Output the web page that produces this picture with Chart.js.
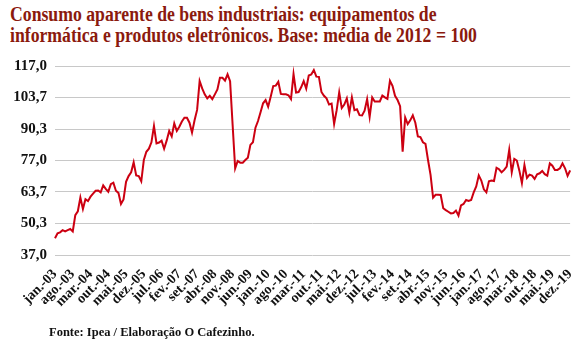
<!DOCTYPE html>
<html>
<head>
<meta charset="utf-8">
<script src="https://cdn.jsdelivr.net/npm/chart.js@4/dist/chart.umd.min.js"></script>
<style>
body { margin: 0; background: #fff; }
#wrap { position: relative; width: 585px; height: 351px; overflow: hidden; }
#title { position: absolute; left: 10px; top: 4px; font: bold 20px 'Liberation Serif', serif; color: #8b1a0e; line-height: 20.5px; white-space: nowrap; transform-origin: 0 0; transform: scaleX(0.885); }
#fonte { position: absolute; left: 49px; top: 325px; font: bold 12.5px 'Liberation Serif', serif; color: #111; white-space: nowrap; }
canvas { position: absolute; left: 0; top: 0; }
</style>
</head>
<body>
<div id="wrap">
  <div id="title">Consumo aparente de bens industriais: equipamentos de<br>informática e produtos eletrônicos. Base: média de 2012 = 100</div>
  <canvas id="chart" width="585" height="351"></canvas>
  <div id="fonte">Fonte: Ipea / Elaboração O Cafezinho.</div>
</div>
<script>
// meses jan/2003 .. dez/2019
const months = ['jan', 'fev', 'mar', 'abr', 'mai', 'jun', 'jul', 'ago', 'set', 'out', 'nov', 'dez'];
const firstYear = 2003, lastYear = 2019;
const yTicks = [37, 50.333, 63.667, 77, 90.333, 103.667, 117];

// valores (base 2012 = 100)
const consumo2003_2007 = [
  44.1, 46.2, 46.6, 47.5, 47.0, 47.5, 48.0, 47.0, 53.9, 55.5, 61.3, 56.5,
  60.6, 59.8, 61.7, 63.0, 64.2, 64.3, 63.5, 66.5, 65.0, 63.8, 67.0, 67.6,
  64.2, 63.3, 58.6, 60.5, 68.0, 70.4, 72.0, 76.2, 70.7, 70.4, 68.2, 77.2,
  80.7, 82.0, 84.7, 91.6, 84.2, 84.6, 85.4, 82.0, 85.4, 89.5, 87.2, 92.7,
  89.5, 91.3, 93.5, 95.1, 95.1, 93.0, 88.8, 94.0, 98.4, 110.6, 107.5, 105.0
];
const consumo2008_2012 = [
  103.3, 104.4, 103.0, 105.0, 107.1, 112.0, 112.0, 110.8, 113.5, 110.6, 92.0, 73.7,
  76.8, 76.1, 76.1, 77.2, 78.2, 83.6, 84.7, 90.9, 93.7, 97.4, 101.2, 102.6,
  99.8, 104.0, 108.5, 108.7, 110.3, 105.2, 105.0, 105.0, 104.6, 103.0, 113.6, 105.8,
  106.0, 108.0, 110.6, 107.4, 113.0, 113.4, 115.3, 112.5, 112.4, 106.0, 104.4, 103.3,
  100.7, 101.1, 92.5, 98.3, 105.8, 99.2, 100.7, 103.3, 97.2, 103.7, 98.3, 98.7
];
const consumo2013_2017 = [
  96.2, 96.1, 98.1, 103.0, 95.5, 103.7, 102.0, 102.0, 102.0, 104.5, 103.7, 103.1,
  110.7, 108.6, 104.4, 102.6, 100.0, 80.7, 95.2, 92.4, 94.0, 96.1, 93.0, 87.2,
  86.9, 84.7, 84.0, 77.2, 70.9, 61.3, 62.5, 62.5, 62.4, 56.8, 56.0, 55.3,
  54.6, 54.8, 55.8, 53.7, 58.0, 58.6, 60.3, 59.9, 60.3, 63.5, 66.0, 70.7,
  68.5, 64.8, 63.5, 68.2, 68.5, 68.3, 73.9, 73.3, 72.0, 73.0, 74.4, 81.5
];
const consumo2018_2019 = [
  72.0, 77.7, 77.0, 72.7, 67.4, 75.1, 69.6, 71.0, 70.6, 69.2, 71.2, 71.6,
  72.6, 71.2, 70.6, 75.8, 74.8, 73.0, 73.0, 73.7, 75.8, 73.7, 70.5, 72.8
];
const consumo = consumo2003_2007.concat(consumo2008_2012, consumo2013_2017, consumo2018_2019);

const labels = [];
for (let y = firstYear; y <= lastYear; y++) {
  months.forEach(m => labels.push(m + '.-' + String(y).slice(2)));
}

const serif = "'Liberation Serif', 'Times New Roman', serif";

new Chart(document.getElementById('chart').getContext('2d'), {
  type: 'line',
  data: {
    labels: labels,
    datasets: [{ data: consumo, borderColor: '#cc0011', borderWidth: 2, pointRadius: 0, tension: 0, fill: false }]
  },
  options: {
    responsive: false,
    animation: false,
    layout: { padding: { top: 66, right: 13, left: 0, bottom: 0 } },
    plugins: { legend: { display: false }, tooltip: { enabled: false } },
    scales: {
      x: {
        type: 'category',
        offset: false,
        grid: { display: false },
        border: { display: false },
        ticks: {
          autoSkip: false, minRotation: 45, maxRotation: 45, padding: 3,
          color: '#111', font: { family: serif, size: 14, weight: 'bold' },
          callback: (v, i) => i % 7 === 0 ? labels[i] : null
        },
        afterFit: s => { s.height = 96; }
      },
      y: {
        min: 37, max: 117,
        afterBuildTicks: s => { s.ticks = yTicks.map(v => ({ value: v })); },
        grid: { color: '#c8c8c8', lineWidth: 1, drawTicks: false },
        border: { display: false },
        ticks: {
          padding: 8, color: '#111', font: { family: serif, size: 15, weight: 'bold' },
          callback: v => v.toFixed(1).replace('.', ',')
        },
        afterFit: s => { s.width = 55; }
      }
    }
  }
});
</script>
</body>
</html>
